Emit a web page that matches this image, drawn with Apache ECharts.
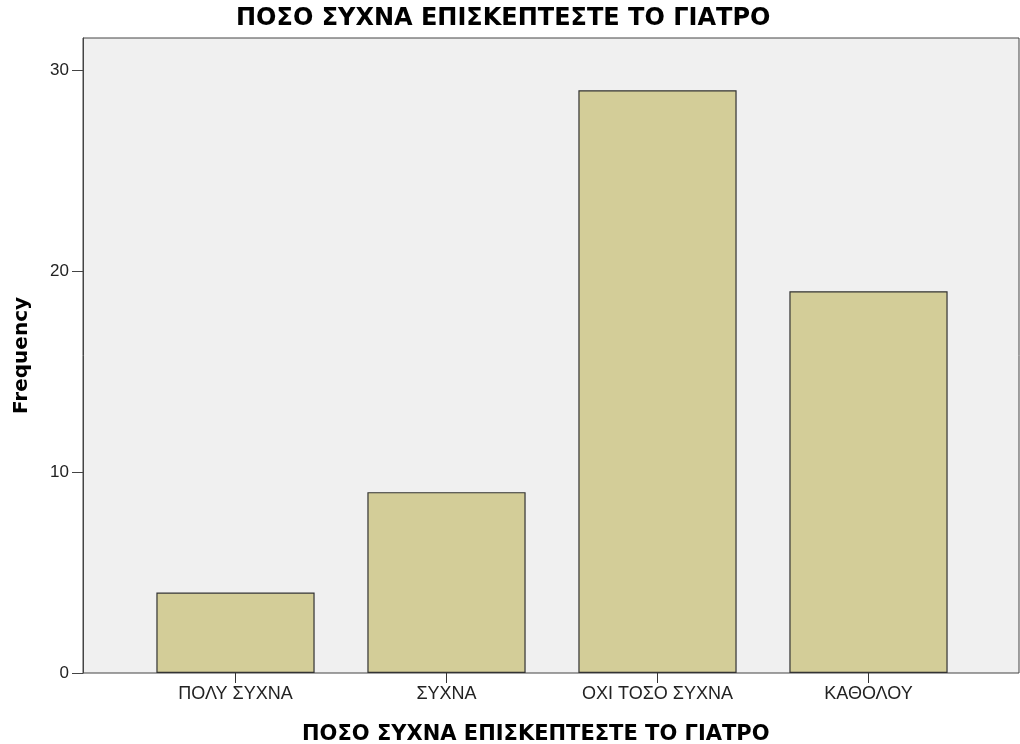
<!DOCTYPE html>
<html><head><meta charset="utf-8">
<script src="https://cdn.jsdelivr.net/npm/echarts@6/dist/echarts.min.js"></script>
<style>html,body{margin:0;padding:0;background:#fff}#c{width:1020px;height:744px}</style>
</head><body><div id="c"></div>
<script>
const categories = ['ΠΟΛΥ ΣΥΧΝΑ', 'ΣΥΧΝΑ', 'ΟΧΙ ΤΟΣΟ ΣΥΧΝΑ', 'ΚΑΘΟΛΟΥ'];
const frequency = [4, 9, 29, 19];
const yTicks = [0, 10, 20, 30];
const titleText = 'ΠΟΣΟ ΣΥΧΝΑ ΕΠΙΣΚΕΠΤΕΣΤΕ ΤΟ ΓΙΑΤΡΟ';
const xName = 'ΠΟΣΟ ΣΥΧΝΑ ΕΠΙΣΚΕΠΤΕΣΤΕ ΤΟ ΓΙΑΤΡΟ';
const yName = 'Frequency';

const font = 'Arial, "Liberation Sans", sans-serif';
const boldFont = '"DejaVu Sans", sans-serif';
const chart = echarts.init(document.getElementById('c'));
chart.setOption({
  animation: false,
  textStyle: {fontFamily: font},
  title: [
    {text: titleText, left: 231, top: 2, textStyle: {fontSize: 24, fontWeight: 'bold', color: '#000', fontFamily: boldFont}},
    {text: xName, left: 297, top: 719, textStyle: {fontSize: 21, fontWeight: 'bold', color: '#000', fontFamily: boldFont}}
  ],
  grid: [
    {left: 83, right: 1, top: 38, bottom: 71, show: true, backgroundColor: '#f0f0f0', borderColor: '#444', borderWidth: 1, outerBoundsMode: 'none', containLabel: false},
    {left: 130, right: 46, top: 38, bottom: 71, outerBoundsMode: 'none', containLabel: false}
  ],
  xAxis: [
    {gridIndex: 0, type: 'value', min: 0, max: 1, show: false},
    {gridIndex: 1, type: 'category', data: categories,
     axisLine: {show: false},
     axisTick: {show: true, alignWithLabel: true, length: 10, lineStyle: {color: '#333'}},
     axisLabel: {fontSize: 18, color: '#222', margin: 12, fontFamily: font}}
  ],
  yAxis: [
    {gridIndex: 0, type: 'value', min: 0, max: 31.6, interval: 10,
     name: yName, nameLocation: 'middle', nameGap: 51, nameRotate: 90,
     nameTextStyle: {fontSize: 20, fontWeight: 'bold', color: '#000', fontFamily: boldFont},
     axisLine: {show: true, lineStyle: {color: '#444'}},
     axisTick: {show: true, length: 11, customValues: yTicks, lineStyle: {color: '#444'}},
     axisLabel: {fontSize: 17, color: '#222', margin: 14, fontFamily: font, customValues: yTicks},
     splitLine: {show: false}},
    {gridIndex: 1, type: 'value', min: 0, max: 31.6, interval: 10, show: false, splitLine: {show: false}}
  ],
  series: [{
    type: 'bar', xAxisIndex: 1, yAxisIndex: 1, data: frequency,
    barWidth: '75%',
    itemStyle: {color: '#d3cd98', borderColor: '#333', borderWidth: 1.2}
  }]
});
</script></body></html>
